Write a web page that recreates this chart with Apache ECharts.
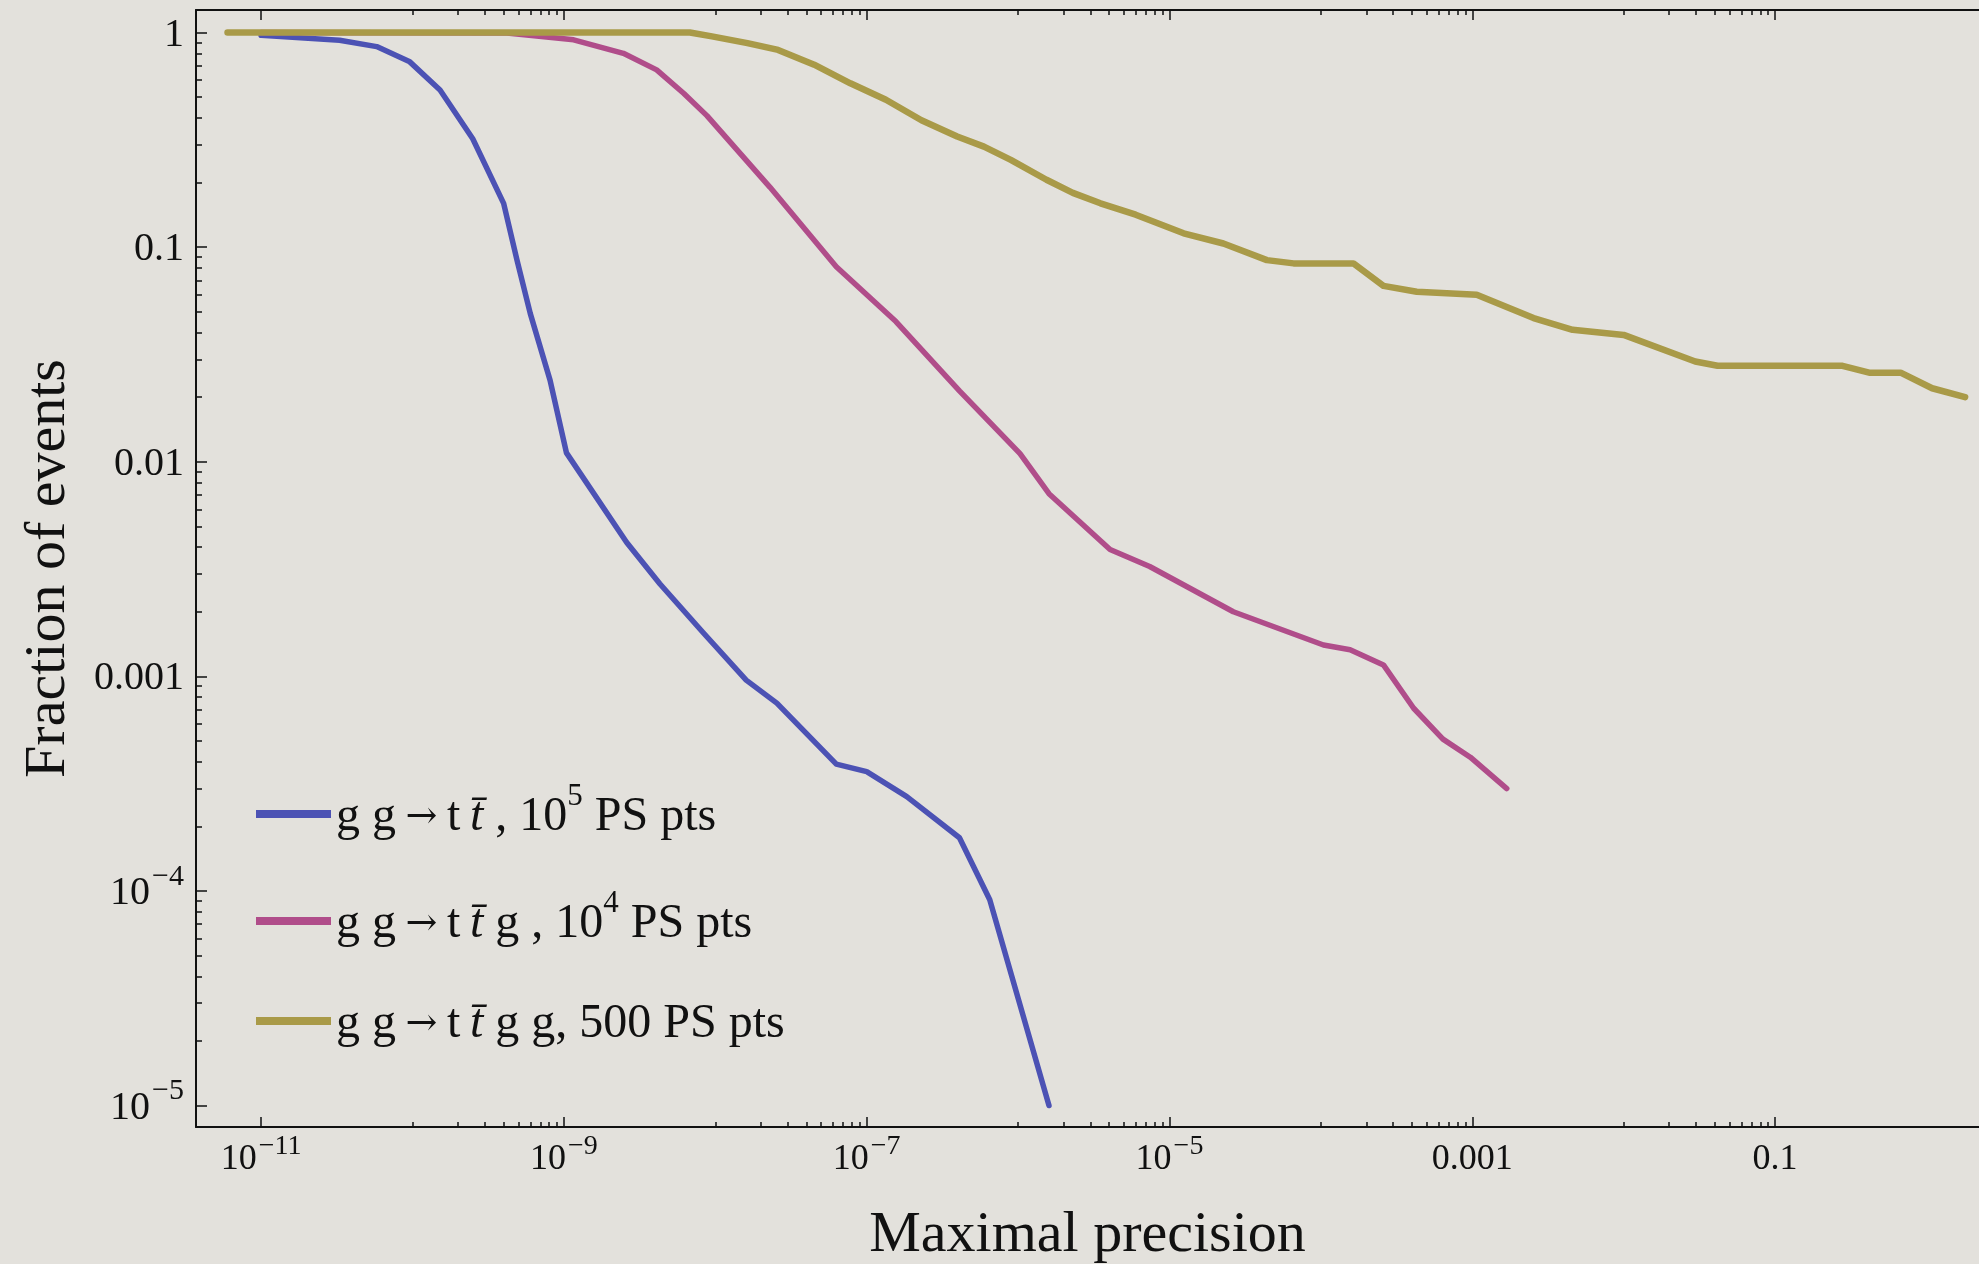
<!DOCTYPE html>
<html>
<head>
<meta charset="utf-8">
<title>Fraction of events vs maximal precision</title>
<script src="https://cdn.jsdelivr.net/npm/echarts@6/dist/echarts.min.js"></script>
<style>
  html, body { margin: 0; padding: 0; background: #e3e1dc; }
  #chart { width: 1979px; height: 1264px; }
</style>
</head>
<body>
<div id="chart"></div>
<script>
// values: maximal precision (x) vs fraction of events (y)
const ttPrecision = [1e-11, 3.3e-11, 5.8e-11, 9.6e-11, 1.52e-10, 2.5e-10, 4.0e-10, 4.9e-10, 6.0e-10, 8.1e-10,
  1.04e-9, 2.6e-9, 4.3e-9, 8.3e-9, 1.6e-8, 2.55e-8, 6.3e-8, 1.0e-7, 1.84e-7, 4.1e-7, 6.5e-7, 1.6e-6]
const ttFraction = [0.97, 0.92, 0.86, 0.73, 0.54, 0.32, 0.16, 0.087, 0.049, 0.024,
  0.011, 0.0042, 0.0027, 0.0016, 0.00096, 0.00075, 0.00039, 0.00036, 0.000275, 0.000177, 0.000091, 0.00001]

const ttgPrecision = [1e-11, 4.2e-10, 1.16e-9, 2.47e-9, 4.1e-9, 6.2e-9, 8.8e-9, 2.3e-8, 6.3e-8, 1.56e-7, 4.1e-7,
  1.03e-6, 1.6e-6, 4.05e-6, 7.4e-6, 2.64e-5, 1.04e-4, 1.56e-4, 2.59e-4, 4.1e-4, 6.4e-4, 9.7e-4, 1.69e-3]
const ttgFraction = [1, 0.995, 0.925, 0.8, 0.67, 0.52, 0.41, 0.19, 0.081, 0.045, 0.0214,
  0.0109, 0.0071, 0.0039, 0.00325, 0.002, 0.0014, 0.00133, 0.00113, 0.00071, 0.00051, 0.00042, 0.0003]

const ttggPrecision = [6e-12, 6.8e-9, 9.5e-9, 1.63e-8, 2.6e-8, 4.5e-8, 7.8e-8, 1.34e-7, 2.3e-7, 3.96e-7, 5.95e-7,
  8.95e-7, 1.54e-6, 2.3e-6, 3.5e-6, 5.98e-6, 1.24e-5, 2.27e-5, 4.4e-5, 6.6e-5, 1.64e-4, 2.59e-4, 4.3e-4,
  1.07e-3, 2.54e-3, 4.6e-3, 1.0e-2, 2.97e-2, 4.17e-2, 0.279, 0.418, 0.675, 1.09, 1.8]
const ttggFraction = [1, 1, 0.96, 0.893, 0.83, 0.708, 0.58, 0.486, 0.39, 0.328, 0.294,
  0.255, 0.206, 0.179, 0.16, 0.1416, 0.116, 0.104, 0.087, 0.084, 0.084, 0.066, 0.062,
  0.06, 0.0467, 0.0412, 0.039, 0.0293, 0.028, 0.028, 0.026, 0.026, 0.022, 0.02]

const seriesNames = ['gg→tt̄, 10^5 PS pts', 'gg→tt̄g, 10^4 PS pts', 'gg→tt̄gg, 500 PS pts']
const legendLabels = [
  '{a|g g\u2009}{r|→}{a|\u2009t\u2009}{i|t̄}{a| , 10}{s|5}{a| PS pts}',
  '{a|g g\u2009}{r|→}{a|\u2009t\u2009}{i|t̄}{a| g , 10}{s|4}{a| PS pts}',
  '{a|g g\u2009}{r|→}{a|\u2009t\u2009}{i|t̄}{a| g g, 500 PS pts}',
]
const seriesColors = ['#4c52b4', '#b04d8a', '#a99a48']

const xTickValues = [1e-11, 1e-9, 1e-7, 1e-5, 1e-3, 1e-1]
const xTickLabels = ['10^−11', '10^−9', '10^−7', '10^−5', '0.001', '0.1']
const yTickValues = [1e-5, 1e-4, 1e-3, 1e-2, 1e-1, 1]
const yTickLabels = ['10^−5', '10^−4', '0.001', '0.01', '0.1', '1']
// minor ticks: 1..9 x 10^d on x, 2..9 x 10^d on y
const xMinorDecades = [-10, -8, -6, -4, -2]
const yMinorDecades = [-5, -4, -3, -2, -1]

const xMin = Math.pow(10, -11.43)
const xMax = Math.pow(10, 0.347)
const yMin = Math.pow(10, -5.1)
const yMax = Math.pow(10, 0.105)

const serif = '"Liberation Serif", "Times New Roman", serif'
const ink = '#111111'

const xMinor = []
xMinorDecades.forEach((d) => { for (let k = 1; k <= 9; k++) xMinor.push(k * Math.pow(10, d)) })
const yMinor = []
yMinorDecades.forEach((d) => { for (let k = 2; k <= 9; k++) yMinor.push(k * Math.pow(10, d)) })

function tickFormatter(values, labels) {
  return (v) => {
    const i = values.findIndex((t) => Math.abs(Math.log10(t) - Math.log10(v)) < 1e-6)
    if (i < 0) return ''
    const [base, exp] = labels[i].split('^')
    return exp ? `{b|${base}}{s|${exp}}` : `{b|${base}}`
  }
}

// base text plus a raised exponent; drop pushes "10" down, raise lifts the exponent
function richFor(size, supSize, drop, raise) {
  const bl = size + 5
  const h = bl + drop
  const sCenter = h - bl / 2 - raise
  const pt = sCenter - supSize / 2
  const pb = h - supSize - pt
  return {
    b: { fontFamily: serif, fontSize: size, lineHeight: bl, color: ink, verticalAlign: 'bottom' },
    s: { fontFamily: serif, fontSize: supSize, lineHeight: supSize, padding: [pt, 0, pb, 2], color: ink, verticalAlign: 'bottom' },
  }
}

function makeXAxis(position, ticks, len, main) {
  return {
    type: 'log',
    gridIndex: 0,
    position,
    min: xMin,
    max: xMax,
    axisLine: { show: main, onZero: false, lineStyle: { color: ink, width: 2 } },
    axisTick: { show: true, inside: true, length: len, customValues: ticks, lineStyle: { color: ink, width: 1.5 } },
    axisLabel: {
      show: main && position === 'bottom',
      customValues: ticks,
      margin: 10,
      formatter: tickFormatter(xTickValues, xTickLabels),
      rich: richFor(36, 28, 13, 11),
    },
    splitLine: { show: false },
    name: main && position === 'bottom' ? 'Maximal precision' : '',
    nameLocation: 'middle',
    nameGap: 80,
    nameTextStyle: { fontFamily: serif, fontSize: 58, color: ink },
  }
}

function makeYAxis(ticks, len, main) {
  return {
    type: 'log',
    gridIndex: 0,
    position: 'left',
    min: yMin,
    max: yMax,
    axisLine: { show: main, onZero: false, lineStyle: { color: ink, width: 2 } },
    axisTick: { show: true, inside: true, length: len, customValues: ticks, lineStyle: { color: ink, width: 1.5 } },
    axisLabel: {
      show: main,
      customValues: ticks,
      margin: 12,
      formatter: tickFormatter(yTickValues, yTickLabels),
      rich: richFor(40, 30, 8, 14),
    },
    splitLine: { show: false },
    name: main ? 'Fraction of events' : '',
    nameLocation: 'middle',
    nameGap: 118,
    nameTextStyle: { fontFamily: serif, fontSize: 58, color: ink },
  }
}

const seriesData = [
  [ttPrecision, ttFraction, 5.5],
  [ttgPrecision, ttgFraction, 5.5],
  [ttggPrecision, ttggFraction, 6.5],
]

const legendTops = [781, 888, 1000]

const chart = echarts.init(document.getElementById('chart'))
chart.setOption({
  animation: false,
  backgroundColor: '#e3e1dc',
  grid: { left: 196, right: 0, top: 10, bottom: 137, outerBoundsMode: 'none' },
  xAxis: [
    makeXAxis('bottom', xTickValues, 10, true),
    makeXAxis('bottom', xMinor, 5, false),
    makeXAxis('top', xTickValues, 10, true),
    makeXAxis('top', xMinor, 5, false),
  ],
  yAxis: [
    makeYAxis(yTickValues, 11, true),
    makeYAxis(yMinor, 6, false),
  ],
  legend: seriesNames.map((name, i) => ({
    data: [name],
    left: 256,
    top: legendTops[i],
    padding: 0,
    icon: 'rect',
    itemWidth: 75,
    itemHeight: 8,
    selectedMode: false,
    formatter: () => legendLabels[i],
    textStyle: {
      rich: {
        a: { fontFamily: serif, fontSize: 48, lineHeight: 54, color: ink, verticalAlign: 'bottom' },
        i: { fontFamily: serif, fontSize: 48, lineHeight: 54, fontStyle: 'italic', color: ink, verticalAlign: 'bottom' },
        r: { fontFamily: '"DejaVu Serif", serif', fontSize: 38, lineHeight: 54, padding: [0, 0, 4, 0], color: ink, verticalAlign: 'bottom' },
        s: { fontFamily: serif, fontSize: 31, lineHeight: 25, padding: [0, 0, 29, 0], color: ink, verticalAlign: 'bottom' },
      },
    },
  })),
  series: seriesData.map(([xs, ys, w], i) => ({
    name: seriesNames[i],
    type: 'line',
    xAxisIndex: 0,
    yAxisIndex: 0,
    data: xs.map((x, j) => [x, ys[j]]),
    showSymbol: false,
    symbol: 'none',
    lineStyle: { color: seriesColors[i], width: w, join: 'round', cap: 'round' },
    itemStyle: { color: seriesColors[i] },
    z: 2 + i,
  })),
})
</script>
</body>
</html>
